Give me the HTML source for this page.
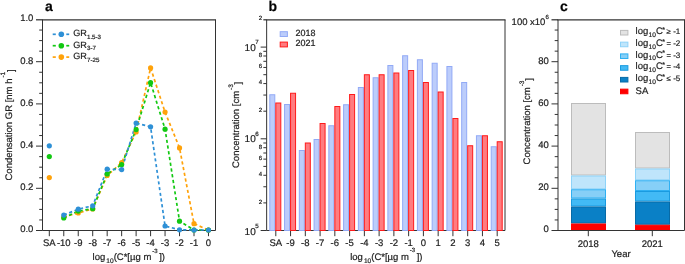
<!DOCTYPE html>
<html><head><meta charset="utf-8"><style>
html,body{margin:0;padding:0;background:#fff;}
body{width:685px;height:264px;overflow:hidden;}
svg{display:block;font-family:"Liberation Sans", sans-serif;will-change:transform;text-rendering:geometricPrecision;}
svg text{stroke:#222;stroke-width:0.2px;}
</style></head><body>
<svg width="685" height="264" viewBox="0 0 685 264">
<rect width="685" height="264" fill="#fff"/>
<path d="M42.5,230.5 L215.5,230.5 L215.5,19.8" fill="none" stroke="#333333" stroke-width="1"/>
<line x1="42.5" y1="230.5" x2="42.5" y2="19.8" stroke="#333333" stroke-width="1"/>
<line x1="42.0" y1="19.8" x2="216.0" y2="19.8" stroke="#333333" stroke-width="1.25"/>
<line x1="36.00" y1="230.50" x2="42.50" y2="230.50" stroke="#333333" stroke-width="1"/>
<text x="33.40" y="232.40" font-size="9.5" text-anchor="end" font-weight="normal" fill="#222" >0.0</text>
<line x1="39.20" y1="219.95" x2="42.50" y2="219.95" stroke="#333333" stroke-width="1"/>
<line x1="39.20" y1="209.40" x2="42.50" y2="209.40" stroke="#333333" stroke-width="1"/>
<line x1="39.20" y1="198.85" x2="42.50" y2="198.85" stroke="#333333" stroke-width="1"/>
<line x1="36.00" y1="188.30" x2="42.50" y2="188.30" stroke="#333333" stroke-width="1"/>
<text x="33.40" y="190.20" font-size="9.5" text-anchor="end" font-weight="normal" fill="#222" >0.2</text>
<line x1="39.20" y1="177.75" x2="42.50" y2="177.75" stroke="#333333" stroke-width="1"/>
<line x1="39.20" y1="167.20" x2="42.50" y2="167.20" stroke="#333333" stroke-width="1"/>
<line x1="39.20" y1="156.65" x2="42.50" y2="156.65" stroke="#333333" stroke-width="1"/>
<line x1="36.00" y1="146.10" x2="42.50" y2="146.10" stroke="#333333" stroke-width="1"/>
<text x="33.40" y="148.00" font-size="9.5" text-anchor="end" font-weight="normal" fill="#222" >0.4</text>
<line x1="39.20" y1="135.55" x2="42.50" y2="135.55" stroke="#333333" stroke-width="1"/>
<line x1="39.20" y1="125.00" x2="42.50" y2="125.00" stroke="#333333" stroke-width="1"/>
<line x1="39.20" y1="114.45" x2="42.50" y2="114.45" stroke="#333333" stroke-width="1"/>
<line x1="36.00" y1="103.90" x2="42.50" y2="103.90" stroke="#333333" stroke-width="1"/>
<text x="33.40" y="105.80" font-size="9.5" text-anchor="end" font-weight="normal" fill="#222" >0.6</text>
<line x1="39.20" y1="93.35" x2="42.50" y2="93.35" stroke="#333333" stroke-width="1"/>
<line x1="39.20" y1="82.80" x2="42.50" y2="82.80" stroke="#333333" stroke-width="1"/>
<line x1="39.20" y1="72.25" x2="42.50" y2="72.25" stroke="#333333" stroke-width="1"/>
<line x1="36.00" y1="61.70" x2="42.50" y2="61.70" stroke="#333333" stroke-width="1"/>
<text x="33.40" y="63.60" font-size="9.5" text-anchor="end" font-weight="normal" fill="#222" >0.8</text>
<line x1="39.20" y1="51.15" x2="42.50" y2="51.15" stroke="#333333" stroke-width="1"/>
<line x1="39.20" y1="40.60" x2="42.50" y2="40.60" stroke="#333333" stroke-width="1"/>
<line x1="39.20" y1="30.05" x2="42.50" y2="30.05" stroke="#333333" stroke-width="1"/>
<line x1="36.00" y1="19.80" x2="42.50" y2="19.80" stroke="#333333" stroke-width="1.25"/>
<text x="33.40" y="21.40" font-size="9.5" text-anchor="end" font-weight="normal" fill="#222" >1.0</text>
<line x1="49.30" y1="230.50" x2="49.30" y2="236.20" stroke="#333333" stroke-width="1"/>
<text x="49.30" y="246.40" font-size="9.5" text-anchor="middle" font-weight="normal" fill="#222" >SA</text>
<line x1="63.77" y1="230.50" x2="63.77" y2="236.20" stroke="#333333" stroke-width="1"/>
<text x="63.77" y="246.40" font-size="9.5" text-anchor="middle" font-weight="normal" fill="#222" >-10</text>
<line x1="78.24" y1="230.50" x2="78.24" y2="236.20" stroke="#333333" stroke-width="1"/>
<text x="78.24" y="246.40" font-size="9.5" text-anchor="middle" font-weight="normal" fill="#222" >-9</text>
<line x1="92.71" y1="230.50" x2="92.71" y2="236.20" stroke="#333333" stroke-width="1"/>
<text x="92.71" y="246.40" font-size="9.5" text-anchor="middle" font-weight="normal" fill="#222" >-8</text>
<line x1="107.18" y1="230.50" x2="107.18" y2="236.20" stroke="#333333" stroke-width="1"/>
<text x="107.18" y="246.40" font-size="9.5" text-anchor="middle" font-weight="normal" fill="#222" >-7</text>
<line x1="121.65" y1="230.50" x2="121.65" y2="236.20" stroke="#333333" stroke-width="1"/>
<text x="121.65" y="246.40" font-size="9.5" text-anchor="middle" font-weight="normal" fill="#222" >-6</text>
<line x1="136.12" y1="230.50" x2="136.12" y2="236.20" stroke="#333333" stroke-width="1"/>
<text x="136.12" y="246.40" font-size="9.5" text-anchor="middle" font-weight="normal" fill="#222" >-5</text>
<line x1="150.59" y1="230.50" x2="150.59" y2="236.20" stroke="#333333" stroke-width="1"/>
<text x="150.59" y="246.40" font-size="9.5" text-anchor="middle" font-weight="normal" fill="#222" >-4</text>
<line x1="165.06" y1="230.50" x2="165.06" y2="236.20" stroke="#333333" stroke-width="1"/>
<text x="165.06" y="246.40" font-size="9.5" text-anchor="middle" font-weight="normal" fill="#222" >-3</text>
<line x1="179.53" y1="230.50" x2="179.53" y2="236.20" stroke="#333333" stroke-width="1"/>
<text x="179.53" y="246.40" font-size="9.5" text-anchor="middle" font-weight="normal" fill="#222" >-2</text>
<line x1="194.00" y1="230.50" x2="194.00" y2="236.20" stroke="#333333" stroke-width="1"/>
<text x="194.00" y="246.40" font-size="9.5" text-anchor="middle" font-weight="normal" fill="#222" >-1</text>
<line x1="208.47" y1="230.50" x2="208.47" y2="236.20" stroke="#333333" stroke-width="1"/>
<text x="208.47" y="246.40" font-size="9.5" text-anchor="middle" font-weight="normal" fill="#222" >0</text>
<text x="45.00" y="10.60" font-size="14" text-anchor="start" font-weight="bold" fill="#000" >a</text>
<text x="92.6" y="260.2" font-size="9.5" fill="#222">log<tspan font-size="6.6" dx="1.0" dy="3.0">10</tspan><tspan dy="-3.0">(C*[µg m</tspan><tspan font-size="6" dx="0.9" dy="-7.6">-3</tspan><tspan dx="1.6" dy="7.6">])</tspan></text>
<text transform="translate(12.2,180.5) rotate(-90)" x="0" y="0" font-size="9.5" fill="#222">Condensation GR [nm h<tspan font-size="6.5" dx="1.0" dy="-7.6">-1</tspan><tspan dx="-0.2" dy="9.1">]</tspan></text>
<path d="M63.77,216.95 L78.24,212.95 L92.71,208.95 L107.18,175.48 L121.65,162.64 L136.12,131.91 L150.59,67.91 L165.06,112.12 L179.53,147.91 L194.00,223.69 L208.47,230.00" fill="none" stroke="#ffa20a" stroke-width="1.7" stroke-dasharray="3.2 2.6"/>
<path d="M63.77,218.00 L78.24,211.06 L92.71,208.74 L107.18,174.01 L121.65,164.53 L136.12,129.59 L150.59,82.65 L165.06,129.17 L179.53,221.16 L194.00,230.00 L208.47,230.00" fill="none" stroke="#12c812" stroke-width="1.7" stroke-dasharray="3.2 2.6"/>
<path d="M63.77,215.05 L78.24,209.16 L92.71,205.79 L107.18,169.17 L121.65,169.59 L136.12,123.07 L150.59,126.86 L165.06,226.00 L179.53,229.79 L194.00,230.00 L208.47,230.00" fill="none" stroke="#2e90d6" stroke-width="1.7" stroke-dasharray="3.2 2.6"/>
<circle cx="49.30" cy="177.59" r="2.6" fill="#ffa20a"/>
<circle cx="63.77" cy="216.95" r="2.6" fill="#ffa20a"/>
<circle cx="78.24" cy="212.95" r="2.6" fill="#ffa20a"/>
<circle cx="92.71" cy="208.95" r="2.6" fill="#ffa20a"/>
<circle cx="107.18" cy="175.48" r="2.6" fill="#ffa20a"/>
<circle cx="121.65" cy="162.64" r="2.6" fill="#ffa20a"/>
<circle cx="136.12" cy="131.91" r="2.6" fill="#ffa20a"/>
<circle cx="150.59" cy="67.91" r="2.6" fill="#ffa20a"/>
<circle cx="165.06" cy="112.12" r="2.6" fill="#ffa20a"/>
<circle cx="179.53" cy="147.91" r="2.6" fill="#ffa20a"/>
<circle cx="194.00" cy="223.69" r="2.6" fill="#ffa20a"/>
<circle cx="208.47" cy="230.00" r="2.6" fill="#ffa20a"/>
<circle cx="49.30" cy="156.54" r="2.6" fill="#12c812"/>
<circle cx="63.77" cy="218.00" r="2.6" fill="#12c812"/>
<circle cx="78.24" cy="211.06" r="2.6" fill="#12c812"/>
<circle cx="92.71" cy="208.74" r="2.6" fill="#12c812"/>
<circle cx="107.18" cy="174.01" r="2.6" fill="#12c812"/>
<circle cx="121.65" cy="164.53" r="2.6" fill="#12c812"/>
<circle cx="136.12" cy="129.59" r="2.6" fill="#12c812"/>
<circle cx="150.59" cy="82.65" r="2.6" fill="#12c812"/>
<circle cx="165.06" cy="129.17" r="2.6" fill="#12c812"/>
<circle cx="179.53" cy="221.16" r="2.6" fill="#12c812"/>
<circle cx="194.00" cy="230.00" r="2.6" fill="#12c812"/>
<circle cx="208.47" cy="230.00" r="2.6" fill="#12c812"/>
<circle cx="49.30" cy="145.80" r="2.6" fill="#2e90d6"/>
<circle cx="63.77" cy="215.05" r="2.6" fill="#2e90d6"/>
<circle cx="78.24" cy="209.16" r="2.6" fill="#2e90d6"/>
<circle cx="92.71" cy="205.79" r="2.6" fill="#2e90d6"/>
<circle cx="107.18" cy="169.17" r="2.6" fill="#2e90d6"/>
<circle cx="121.65" cy="169.59" r="2.6" fill="#2e90d6"/>
<circle cx="136.12" cy="123.07" r="2.6" fill="#2e90d6"/>
<circle cx="150.59" cy="126.86" r="2.6" fill="#2e90d6"/>
<circle cx="165.06" cy="226.00" r="2.6" fill="#2e90d6"/>
<circle cx="179.53" cy="229.79" r="2.6" fill="#2e90d6"/>
<circle cx="194.00" cy="230.00" r="2.6" fill="#2e90d6"/>
<circle cx="208.47" cy="230.00" r="2.6" fill="#2e90d6"/>
<line x1="52.7" y1="34.30" x2="55.8" y2="34.30" stroke="#2e90d6" stroke-width="1.7"/>
<line x1="66.3" y1="34.30" x2="69.2" y2="34.30" stroke="#2e90d6" stroke-width="1.7"/>
<circle cx="61.3" cy="34.30" r="2.8" fill="#2e90d6"/>
<text x="73.3" y="36.30" font-size="9.1" fill="#222">GR<tspan font-size="6.2" dy="2.4">1.5-3</tspan></text>
<line x1="52.7" y1="45.70" x2="55.8" y2="45.70" stroke="#12c812" stroke-width="1.7"/>
<line x1="66.3" y1="45.70" x2="69.2" y2="45.70" stroke="#12c812" stroke-width="1.7"/>
<circle cx="61.3" cy="45.70" r="2.8" fill="#12c812"/>
<text x="73.3" y="47.70" font-size="9.1" fill="#222">GR<tspan font-size="6.2" dy="2.4">3-7</tspan></text>
<line x1="52.7" y1="57.10" x2="55.8" y2="57.10" stroke="#ffa20a" stroke-width="1.7"/>
<line x1="66.3" y1="57.10" x2="69.2" y2="57.10" stroke="#ffa20a" stroke-width="1.7"/>
<circle cx="61.3" cy="57.10" r="2.8" fill="#ffa20a"/>
<text x="73.3" y="59.10" font-size="9.1" fill="#222">GR<tspan font-size="6.2" dy="2.4">7-25</tspan></text>
<path d="M266.65,230.5 L505.0,230.5 L505.0,19.8" fill="none" stroke="#333333" stroke-width="1"/>
<line x1="266.65" y1="230.5" x2="266.65" y2="19.8" stroke="#333333" stroke-width="1"/>
<line x1="266.15" y1="19.8" x2="505.5" y2="19.8" stroke="#333333" stroke-width="1.25"/>
<rect x="269.80" y="94.75" width="5.0" height="135.75" fill="#bccdfb" stroke="#92aaf6" stroke-width="1"/>
<rect x="275.80" y="103.00" width="5.0" height="127.50" fill="#ff7c80" stroke="#ff1a1a" stroke-width="1"/>
<line x1="275.80" y1="231.00" x2="275.80" y2="236.20" stroke="#333333" stroke-width="1"/>
<text x="275.80" y="246.00" font-size="9.5" text-anchor="middle" font-weight="normal" fill="#222" >SA</text>
<rect x="284.56" y="104.50" width="5.0" height="126.00" fill="#bccdfb" stroke="#92aaf6" stroke-width="1"/>
<rect x="290.56" y="93.25" width="5.0" height="137.25" fill="#ff7c80" stroke="#ff1a1a" stroke-width="1"/>
<line x1="290.56" y1="231.00" x2="290.56" y2="236.20" stroke="#333333" stroke-width="1"/>
<text x="290.56" y="246.00" font-size="9.5" text-anchor="middle" font-weight="normal" fill="#222" >-9</text>
<rect x="299.32" y="150.50" width="5.0" height="80.00" fill="#bccdfb" stroke="#92aaf6" stroke-width="1"/>
<rect x="305.32" y="143.00" width="5.0" height="87.50" fill="#ff7c80" stroke="#ff1a1a" stroke-width="1"/>
<line x1="305.32" y1="231.00" x2="305.32" y2="236.20" stroke="#333333" stroke-width="1"/>
<text x="305.32" y="246.00" font-size="9.5" text-anchor="middle" font-weight="normal" fill="#222" >-8</text>
<rect x="314.08" y="139.50" width="5.0" height="91.00" fill="#bccdfb" stroke="#92aaf6" stroke-width="1"/>
<rect x="320.08" y="123.50" width="5.0" height="107.00" fill="#ff7c80" stroke="#ff1a1a" stroke-width="1"/>
<line x1="320.08" y1="231.00" x2="320.08" y2="236.20" stroke="#333333" stroke-width="1"/>
<text x="320.08" y="246.00" font-size="9.5" text-anchor="middle" font-weight="normal" fill="#222" >-7</text>
<rect x="328.84" y="125.75" width="5.0" height="104.75" fill="#bccdfb" stroke="#92aaf6" stroke-width="1"/>
<rect x="334.84" y="106.50" width="5.0" height="124.00" fill="#ff7c80" stroke="#ff1a1a" stroke-width="1"/>
<line x1="334.84" y1="231.00" x2="334.84" y2="236.20" stroke="#333333" stroke-width="1"/>
<text x="334.84" y="246.00" font-size="9.5" text-anchor="middle" font-weight="normal" fill="#222" >-6</text>
<rect x="343.60" y="104.75" width="5.0" height="125.75" fill="#bccdfb" stroke="#92aaf6" stroke-width="1"/>
<rect x="349.60" y="94.50" width="5.0" height="136.00" fill="#ff7c80" stroke="#ff1a1a" stroke-width="1"/>
<line x1="349.60" y1="231.00" x2="349.60" y2="236.20" stroke="#333333" stroke-width="1"/>
<text x="349.60" y="246.00" font-size="9.5" text-anchor="middle" font-weight="normal" fill="#222" >-5</text>
<rect x="358.36" y="87.50" width="5.0" height="143.00" fill="#bccdfb" stroke="#92aaf6" stroke-width="1"/>
<rect x="364.36" y="74.75" width="5.0" height="155.75" fill="#ff7c80" stroke="#ff1a1a" stroke-width="1"/>
<line x1="364.36" y1="231.00" x2="364.36" y2="236.20" stroke="#333333" stroke-width="1"/>
<text x="364.36" y="246.00" font-size="9.5" text-anchor="middle" font-weight="normal" fill="#222" >-4</text>
<rect x="373.12" y="77.75" width="5.0" height="152.75" fill="#bccdfb" stroke="#92aaf6" stroke-width="1"/>
<rect x="379.12" y="74.75" width="5.0" height="155.75" fill="#ff7c80" stroke="#ff1a1a" stroke-width="1"/>
<line x1="379.12" y1="231.00" x2="379.12" y2="236.20" stroke="#333333" stroke-width="1"/>
<text x="379.12" y="246.00" font-size="9.5" text-anchor="middle" font-weight="normal" fill="#222" >-3</text>
<rect x="387.88" y="65.50" width="5.0" height="165.00" fill="#bccdfb" stroke="#92aaf6" stroke-width="1"/>
<rect x="393.88" y="73.00" width="5.0" height="157.50" fill="#ff7c80" stroke="#ff1a1a" stroke-width="1"/>
<line x1="393.88" y1="231.00" x2="393.88" y2="236.20" stroke="#333333" stroke-width="1"/>
<text x="393.88" y="246.00" font-size="9.5" text-anchor="middle" font-weight="normal" fill="#222" >-2</text>
<rect x="402.64" y="55.75" width="5.0" height="174.75" fill="#bccdfb" stroke="#92aaf6" stroke-width="1"/>
<rect x="408.64" y="70.50" width="5.0" height="160.00" fill="#ff7c80" stroke="#ff1a1a" stroke-width="1"/>
<line x1="408.64" y1="231.00" x2="408.64" y2="236.20" stroke="#333333" stroke-width="1"/>
<text x="408.64" y="246.00" font-size="9.5" text-anchor="middle" font-weight="normal" fill="#222" >-1</text>
<rect x="417.40" y="59.75" width="5.0" height="170.75" fill="#bccdfb" stroke="#92aaf6" stroke-width="1"/>
<rect x="423.40" y="82.50" width="5.0" height="148.00" fill="#ff7c80" stroke="#ff1a1a" stroke-width="1"/>
<line x1="423.40" y1="231.00" x2="423.40" y2="236.20" stroke="#333333" stroke-width="1"/>
<text x="423.40" y="246.00" font-size="9.5" text-anchor="middle" font-weight="normal" fill="#222" >0</text>
<rect x="432.16" y="63.25" width="5.0" height="167.25" fill="#bccdfb" stroke="#92aaf6" stroke-width="1"/>
<rect x="438.16" y="92.00" width="5.0" height="138.50" fill="#ff7c80" stroke="#ff1a1a" stroke-width="1"/>
<line x1="438.16" y1="231.00" x2="438.16" y2="236.20" stroke="#333333" stroke-width="1"/>
<text x="438.16" y="246.00" font-size="9.5" text-anchor="middle" font-weight="normal" fill="#222" >1</text>
<rect x="446.92" y="66.50" width="5.0" height="164.00" fill="#bccdfb" stroke="#92aaf6" stroke-width="1"/>
<rect x="452.92" y="118.50" width="5.0" height="112.00" fill="#ff7c80" stroke="#ff1a1a" stroke-width="1"/>
<line x1="452.92" y1="231.00" x2="452.92" y2="236.20" stroke="#333333" stroke-width="1"/>
<text x="452.92" y="246.00" font-size="9.5" text-anchor="middle" font-weight="normal" fill="#222" >2</text>
<rect x="461.68" y="82.50" width="5.0" height="148.00" fill="#bccdfb" stroke="#92aaf6" stroke-width="1"/>
<rect x="467.68" y="145.75" width="5.0" height="84.75" fill="#ff7c80" stroke="#ff1a1a" stroke-width="1"/>
<line x1="467.68" y1="231.00" x2="467.68" y2="236.20" stroke="#333333" stroke-width="1"/>
<text x="467.68" y="246.00" font-size="9.5" text-anchor="middle" font-weight="normal" fill="#222" >3</text>
<rect x="476.44" y="135.75" width="5.0" height="94.75" fill="#bccdfb" stroke="#92aaf6" stroke-width="1"/>
<rect x="482.44" y="135.75" width="5.0" height="94.75" fill="#ff7c80" stroke="#ff1a1a" stroke-width="1"/>
<line x1="482.44" y1="231.00" x2="482.44" y2="236.20" stroke="#333333" stroke-width="1"/>
<text x="482.44" y="246.00" font-size="9.5" text-anchor="middle" font-weight="normal" fill="#222" >4</text>
<rect x="491.20" y="146.75" width="5.0" height="83.75" fill="#bccdfb" stroke="#92aaf6" stroke-width="1"/>
<rect x="497.20" y="141.75" width="5.0" height="88.75" fill="#ff7c80" stroke="#ff1a1a" stroke-width="1"/>
<line x1="497.20" y1="231.00" x2="497.20" y2="236.20" stroke="#333333" stroke-width="1"/>
<text x="497.20" y="246.00" font-size="9.5" text-anchor="middle" font-weight="normal" fill="#222" >5</text>
<line x1="260.65" y1="230.50" x2="266.65" y2="230.50" stroke="#333333" stroke-width="1"/>
<line x1="263.35" y1="202.90" x2="266.65" y2="202.90" stroke="#333333" stroke-width="1"/>
<text x="262.05" y="203.80" font-size="6" text-anchor="end" font-weight="normal" fill="#222" >2</text>
<line x1="263.35" y1="186.75" x2="266.65" y2="186.75" stroke="#333333" stroke-width="1"/>
<line x1="263.35" y1="175.29" x2="266.65" y2="175.29" stroke="#333333" stroke-width="1"/>
<text x="262.05" y="176.19" font-size="6" text-anchor="end" font-weight="normal" fill="#222" >4</text>
<line x1="263.35" y1="166.40" x2="266.65" y2="166.40" stroke="#333333" stroke-width="1"/>
<line x1="263.35" y1="159.14" x2="266.65" y2="159.14" stroke="#333333" stroke-width="1"/>
<text x="262.05" y="160.04" font-size="6" text-anchor="end" font-weight="normal" fill="#222" >6</text>
<line x1="263.35" y1="153.00" x2="266.65" y2="153.00" stroke="#333333" stroke-width="1"/>
<line x1="263.35" y1="147.69" x2="266.65" y2="147.69" stroke="#333333" stroke-width="1"/>
<text x="262.05" y="148.59" font-size="6" text-anchor="end" font-weight="normal" fill="#222" >8</text>
<line x1="263.35" y1="143.00" x2="266.65" y2="143.00" stroke="#333333" stroke-width="1"/>
<line x1="260.65" y1="138.80" x2="266.65" y2="138.80" stroke="#333333" stroke-width="1"/>
<line x1="263.35" y1="111.20" x2="266.65" y2="111.20" stroke="#333333" stroke-width="1"/>
<text x="262.05" y="112.10" font-size="6" text-anchor="end" font-weight="normal" fill="#222" >2</text>
<line x1="263.35" y1="95.05" x2="266.65" y2="95.05" stroke="#333333" stroke-width="1"/>
<line x1="263.35" y1="83.59" x2="266.65" y2="83.59" stroke="#333333" stroke-width="1"/>
<text x="262.05" y="84.49" font-size="6" text-anchor="end" font-weight="normal" fill="#222" >4</text>
<line x1="263.35" y1="74.70" x2="266.65" y2="74.70" stroke="#333333" stroke-width="1"/>
<line x1="263.35" y1="67.44" x2="266.65" y2="67.44" stroke="#333333" stroke-width="1"/>
<text x="262.05" y="68.34" font-size="6" text-anchor="end" font-weight="normal" fill="#222" >6</text>
<line x1="263.35" y1="61.30" x2="266.65" y2="61.30" stroke="#333333" stroke-width="1"/>
<line x1="263.35" y1="55.99" x2="266.65" y2="55.99" stroke="#333333" stroke-width="1"/>
<text x="262.05" y="56.89" font-size="6" text-anchor="end" font-weight="normal" fill="#222" >8</text>
<line x1="263.35" y1="51.30" x2="266.65" y2="51.30" stroke="#333333" stroke-width="1"/>
<line x1="260.65" y1="47.10" x2="266.65" y2="47.10" stroke="#333333" stroke-width="1"/>
<line x1="263.35" y1="19.80" x2="266.65" y2="19.80" stroke="#333333" stroke-width="1.25"/>
<text x="262.05" y="20.40" font-size="6" text-anchor="end" font-weight="normal" fill="#222" >2</text>
<text x="244.6" y="235.00" font-size="10" fill="#222">10<tspan font-size="6.2" dx="-0.6" dy="-7.4">5</tspan></text>
<text x="244.6" y="141.70" font-size="10" fill="#222">10<tspan font-size="6.2" dx="-0.6" dy="-5.4">6</tspan></text>
<text x="244.6" y="50.60" font-size="10" fill="#222">10<tspan font-size="6.2" dx="-0.6" dy="-6.2">7</tspan></text>
<text x="268.50" y="10.60" font-size="14" text-anchor="start" font-weight="bold" fill="#000" >b</text>
<text x="350.2" y="260.0" font-size="9.5" fill="#222">log<tspan font-size="6.6" dx="1.0" dy="3.0">10</tspan><tspan dy="-3.0">(C*[µg m</tspan><tspan font-size="6" dx="0.9" dy="-7.6">-3</tspan><tspan dx="1.6" dy="7.6">])</tspan></text>
<text transform="translate(239.0,168.0) rotate(-90)" font-size="9.5" fill="#222">Concentration [cm<tspan font-size="6.5" dx="1.0" dy="-6.4">-3</tspan><tspan dx="-0.3" dy="8.3">]</tspan></text>
<rect x="280.2" y="31.7" width="7.2" height="4.8" fill="#bccdfb" stroke="#92aaf6" stroke-width="1"/>
<rect x="280.2" y="42.1" width="7.2" height="4.8" fill="#ff7c80" stroke="#ff1a1a" stroke-width="1"/>
<text x="295.60" y="35.60" font-size="9.0" text-anchor="start" font-weight="normal" fill="#222" >2018</text>
<text x="295.60" y="46.30" font-size="9.0" text-anchor="start" font-weight="normal" fill="#222" >2021</text>
<rect x="571.50" y="103.50" width="34.00" height="71.50" fill="#e3e3e3" stroke="#bcbcbc" stroke-width="1"/>
<rect x="571.50" y="176.00" width="34.00" height="12.75" fill="#bfe5fb" stroke="#8ed3f9" stroke-width="1"/>
<rect x="571.50" y="189.75" width="34.00" height="8.25" fill="#86cff7" stroke="#2fb0f2" stroke-width="1"/>
<rect x="571.50" y="199.00" width="34.00" height="7.00" fill="#42baf5" stroke="#1a9be0" stroke-width="1"/>
<rect x="571.50" y="207.00" width="34.00" height="16.00" fill="#0a80c6" stroke="#076aa6" stroke-width="1"/>
<rect x="571.50" y="224.00" width="34.00" height="6.50" fill="#fe0000" stroke="#fe0000" stroke-width="1"/>
<rect x="635.50" y="132.50" width="34.00" height="35.50" fill="#e3e3e3" stroke="#bcbcbc" stroke-width="1"/>
<rect x="635.50" y="169.00" width="34.00" height="10.75" fill="#bfe5fb" stroke="#8ed3f9" stroke-width="1"/>
<rect x="635.50" y="180.75" width="34.00" height="9.75" fill="#86cff7" stroke="#2fb0f2" stroke-width="1"/>
<rect x="635.50" y="191.50" width="34.00" height="9.50" fill="#42baf5" stroke="#1a9be0" stroke-width="1"/>
<rect x="635.50" y="202.00" width="34.00" height="22.25" fill="#0a80c6" stroke="#076aa6" stroke-width="1"/>
<rect x="635.50" y="225.25" width="34.00" height="5.25" fill="#fe0000" stroke="#fe0000" stroke-width="1"/>
<path d="M558.0,230.5 L684.5,230.5 L684.5,19.8" fill="none" stroke="#333333" stroke-width="1"/>
<line x1="558.0" y1="230.5" x2="558.0" y2="19.8" stroke="#333333" stroke-width="1"/>
<line x1="557.5" y1="19.8" x2="685.0" y2="19.8" stroke="#333333" stroke-width="1.25"/>
<line x1="551.50" y1="230.50" x2="558.00" y2="230.50" stroke="#333333" stroke-width="1"/>
<text x="548.80" y="232.40" font-size="9.5" text-anchor="end" font-weight="normal" fill="#222" >0</text>
<line x1="554.70" y1="219.95" x2="558.00" y2="219.95" stroke="#333333" stroke-width="1"/>
<line x1="554.70" y1="209.40" x2="558.00" y2="209.40" stroke="#333333" stroke-width="1"/>
<line x1="554.70" y1="198.85" x2="558.00" y2="198.85" stroke="#333333" stroke-width="1"/>
<line x1="551.50" y1="188.30" x2="558.00" y2="188.30" stroke="#333333" stroke-width="1"/>
<text x="548.80" y="190.20" font-size="9.5" text-anchor="end" font-weight="normal" fill="#222" >20</text>
<line x1="554.70" y1="177.75" x2="558.00" y2="177.75" stroke="#333333" stroke-width="1"/>
<line x1="554.70" y1="167.20" x2="558.00" y2="167.20" stroke="#333333" stroke-width="1"/>
<line x1="554.70" y1="156.65" x2="558.00" y2="156.65" stroke="#333333" stroke-width="1"/>
<line x1="551.50" y1="146.10" x2="558.00" y2="146.10" stroke="#333333" stroke-width="1"/>
<text x="548.80" y="148.00" font-size="9.5" text-anchor="end" font-weight="normal" fill="#222" >40</text>
<line x1="554.70" y1="135.55" x2="558.00" y2="135.55" stroke="#333333" stroke-width="1"/>
<line x1="554.70" y1="125.00" x2="558.00" y2="125.00" stroke="#333333" stroke-width="1"/>
<line x1="554.70" y1="114.45" x2="558.00" y2="114.45" stroke="#333333" stroke-width="1"/>
<line x1="551.50" y1="103.90" x2="558.00" y2="103.90" stroke="#333333" stroke-width="1"/>
<text x="548.80" y="105.80" font-size="9.5" text-anchor="end" font-weight="normal" fill="#222" >60</text>
<line x1="554.70" y1="93.35" x2="558.00" y2="93.35" stroke="#333333" stroke-width="1"/>
<line x1="554.70" y1="82.80" x2="558.00" y2="82.80" stroke="#333333" stroke-width="1"/>
<line x1="554.70" y1="72.25" x2="558.00" y2="72.25" stroke="#333333" stroke-width="1"/>
<line x1="551.50" y1="61.70" x2="558.00" y2="61.70" stroke="#333333" stroke-width="1"/>
<text x="548.80" y="63.60" font-size="9.5" text-anchor="end" font-weight="normal" fill="#222" >80</text>
<line x1="554.70" y1="51.15" x2="558.00" y2="51.15" stroke="#333333" stroke-width="1"/>
<line x1="554.70" y1="40.60" x2="558.00" y2="40.60" stroke="#333333" stroke-width="1"/>
<line x1="554.70" y1="30.05" x2="558.00" y2="30.05" stroke="#333333" stroke-width="1"/>
<line x1="551.50" y1="19.80" x2="558.00" y2="19.80" stroke="#333333" stroke-width="1.25"/>
<text x="511.6" y="25.0" font-size="9.5" fill="#222">100 x10<tspan font-size="6" dx="0.2" dy="-5.8">6</tspan></text>
<line x1="588.30" y1="231.00" x2="588.30" y2="236.20" stroke="#333333" stroke-width="1"/>
<text x="588.30" y="246.80" font-size="9.5" text-anchor="middle" font-weight="normal" fill="#222" >2018</text>
<line x1="652.30" y1="231.00" x2="652.30" y2="236.20" stroke="#333333" stroke-width="1"/>
<text x="652.30" y="246.80" font-size="9.5" text-anchor="middle" font-weight="normal" fill="#222" >2021</text>
<text x="621.00" y="257.40" font-size="9.5" text-anchor="middle" font-weight="normal" fill="#222" >Year</text>
<text x="560.00" y="10.60" font-size="14" text-anchor="start" font-weight="bold" fill="#000" >c</text>
<text transform="translate(529.9,164.4) rotate(-90)" font-size="9.5" fill="#222">Concentration [cm<tspan font-size="6.5" dx="1.0" dy="-6.4">-3</tspan><tspan dx="-0.3" dy="8.3">]</tspan></text>
<rect x="620.5" y="30.40" width="7.4" height="4.6" fill="#e3e3e3" stroke="#bcbcbc" stroke-width="1"/>
<text x="635.6" y="34.20" font-size="9.5" fill="#222">log<tspan font-size="6.6" dx="0.3" dy="2.6">10</tspan><tspan dy="-2.6">C</tspan><tspan font-size="7" dx="-0.6" dy="-2.4">*</tspan></text>
<text x="666.6" y="34.00" font-size="7.6" fill="#222">≥</text>
<text x="673.2" y="34.20" font-size="8" fill="#222">-1</text>
<rect x="620.5" y="42.15" width="7.4" height="4.6" fill="#bfe5fb" stroke="#8ed3f9" stroke-width="1"/>
<text x="635.6" y="45.95" font-size="9.5" fill="#222">log<tspan font-size="6.6" dx="0.3" dy="2.6">10</tspan><tspan dy="-2.6">C</tspan><tspan font-size="7" dx="-0.6" dy="-2.4">*</tspan></text>
<text x="666.6" y="45.75" font-size="7.6" fill="#222">=</text>
<text x="673.2" y="45.95" font-size="8" fill="#222">-2</text>
<rect x="620.5" y="53.90" width="7.4" height="4.6" fill="#86cff7" stroke="#2fb0f2" stroke-width="1"/>
<text x="635.6" y="57.70" font-size="9.5" fill="#222">log<tspan font-size="6.6" dx="0.3" dy="2.6">10</tspan><tspan dy="-2.6">C</tspan><tspan font-size="7" dx="-0.6" dy="-2.4">*</tspan></text>
<text x="666.6" y="57.50" font-size="7.6" fill="#222">=</text>
<text x="673.2" y="57.70" font-size="8" fill="#222">-3</text>
<rect x="620.5" y="65.65" width="7.4" height="4.6" fill="#42baf5" stroke="#1a9be0" stroke-width="1"/>
<text x="635.6" y="69.45" font-size="9.5" fill="#222">log<tspan font-size="6.6" dx="0.3" dy="2.6">10</tspan><tspan dy="-2.6">C</tspan><tspan font-size="7" dx="-0.6" dy="-2.4">*</tspan></text>
<text x="666.6" y="69.25" font-size="7.6" fill="#222">=</text>
<text x="673.2" y="69.45" font-size="8" fill="#222">-4</text>
<rect x="620.5" y="77.40" width="7.4" height="4.6" fill="#0a80c6" stroke="#076aa6" stroke-width="1"/>
<text x="635.6" y="81.20" font-size="9.5" fill="#222">log<tspan font-size="6.6" dx="0.3" dy="2.6">10</tspan><tspan dy="-2.6">C</tspan><tspan font-size="7" dx="-0.6" dy="-2.4">*</tspan></text>
<text x="666.6" y="81.00" font-size="7.6" fill="#222">≤</text>
<text x="673.2" y="81.20" font-size="8" fill="#222">-5</text>
<rect x="620.5" y="89.15" width="7.4" height="4.6" fill="#fe0000" stroke="#fe0000" stroke-width="1"/>
<text x="635.60" y="93.75" font-size="9.5" text-anchor="start" font-weight="normal" fill="#222" >SA</text>
</svg></body></html>
